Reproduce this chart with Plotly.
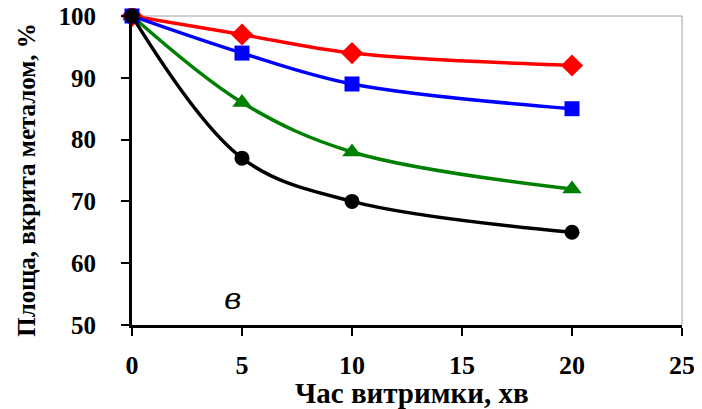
import plotly.graph_objects as go

time_min = [0, 5, 10, 20]
red_vals = [100, 97, 94, 92]
blue_vals = [100, 94, 89, 85]
green_vals = [100, 86, 78, 72]
black_vals = [100, 77, 70, 65]

x_ticks = [0, 5, 10, 15, 20, 25]
y_ticks = [50, 60, 70, 80, 90, 100]

x_title = "<b>Час витримки, хв</b>"
y_title = "<b>Площа, вкрита металом, %</b>"
panel_label = "<i>в</i>"

fig = go.Figure()
styles = [
    (green_vals, "#008000", "triangle-up", 17),
    (red_vals, "#ff0000", "diamond", 17),
    (blue_vals, "#0000ff", "square", 15),
    (black_vals, "#000000", "circle", 15),
]
for vals, color, sym, size in styles:
    fig.add_trace(go.Scatter(
        x=time_min, y=vals, mode="lines+markers",
        line=dict(color=color, width=3.5, shape="spline", smoothing=1),
        marker=dict(symbol=sym, size=size, color=color),
        showlegend=False, cliponaxis=False,
    ))

font_family = "Liberation Serif"
fig.update_layout(
    width=694, height=401,
    margin=dict(l=124, r=20, t=8, b=84),
    paper_bgcolor="white", plot_bgcolor="white",
    font=dict(family=font_family, color="black"),
    xaxis=dict(
        range=[0, 25], tickvals=x_ticks, showgrid=False, zeroline=False,
        showline=True, linecolor="black", linewidth=3,
        ticks="outside", ticklen=8, tickwidth=2, tickcolor="black",
        tickfont=dict(size=26, family=font_family, weight="bold"),
        ticklabelstandoff=7, automargin=False, ticklabeloverflow="allow",
    ),
    yaxis=dict(
        range=[50, 100], tickvals=y_ticks, showgrid=False, zeroline=False,
        showline=True, linecolor="black", linewidth=3,
        ticks="outside", ticklen=8, tickwidth=2, tickcolor="black",
        tickfont=dict(size=25, family=font_family, weight="bold"),
        ticksuffix="\u2009\u2009",
        ticklabelstandoff=20, automargin=False, ticklabeloverflow="allow",
    ),
    shapes=[
        dict(type="line", xref="paper", yref="paper", x0=0, x1=1, y0=1, y1=1,
             line=dict(color="#a0a0a0", width=1), layer="below"),
        dict(type="line", xref="paper", yref="paper", x0=1, x1=1, y0=0, y1=1,
             line=dict(color="#a0a0a0", width=1), layer="below"),
    ],
    annotations=[
        dict(x=4.55, y=54.3, xref="x", yref="y", text=panel_label, showarrow=False,
             font=dict(size=30, family="DejaVu Serif", color="black")),
        dict(x=0.509, y=0, xref="paper", yref="paper", text=x_title, showarrow=False,
             xanchor="center", yanchor="middle", yshift=-68,
             font=dict(size=29, family=font_family, color="black")),
        dict(x=0, y=0.47, xref="paper", yref="paper", text=y_title, showarrow=False,
             xanchor="center", yanchor="middle", xshift=-105, textangle=-90,
             font=dict(size=25, family=font_family, color="black")),
    ],
)

fig.write_html("out.html")
